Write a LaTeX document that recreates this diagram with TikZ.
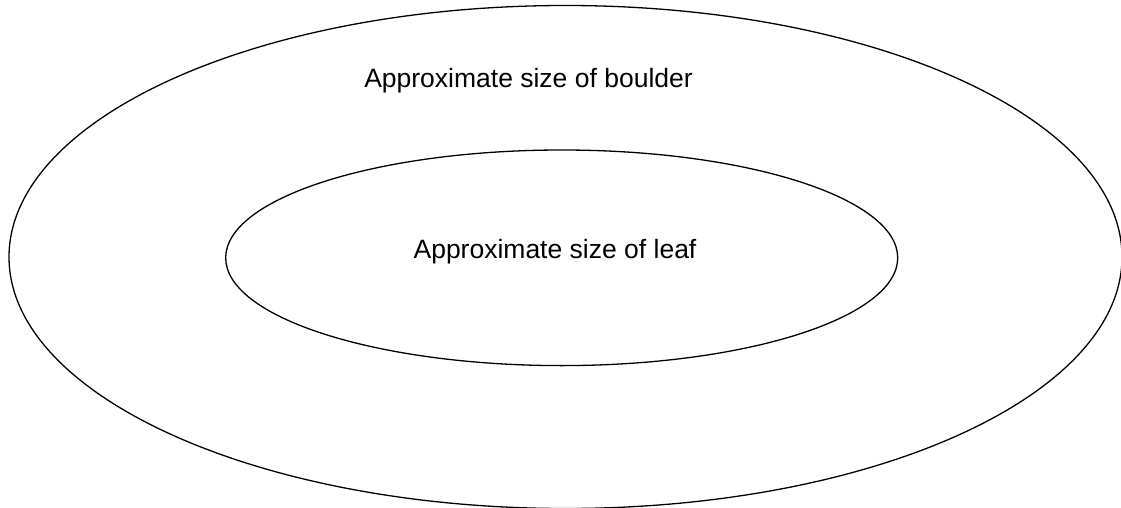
\documentclass[tikz,border=0pt]{standalone}
\usepackage{fontspec}
\setmainfont{Liberation Sans}
\usetikzlibrary{calc}

\begin{document}
\begin{tikzpicture}[x=1pt, y=-1pt, line width=1.3pt,
  sizelabel/.style={anchor=base, inner sep=0pt, font=\fontsize{26.5}{30}\selectfont}]
\useasboundingbox (0,0) rectangle (1121,508);
\coordinate (boulder) at (565.5,257);
\coordinate (leaf) at (561.7,257.8);
% Draw boulder outline
\draw (boulder) ellipse [x radius=556.5, y radius=251.5];
% Draw leaf outline
\draw (leaf) ellipse [x radius=336, y radius=107.8];
% Labels
\node[sizelabel] (boulderlabel) at (528.5,88) {Approximate size of boulder};
\node[sizelabel] (leaflabel) at (555,258) {Approximate size of leaf};
\end{tikzpicture}
\end{document}
